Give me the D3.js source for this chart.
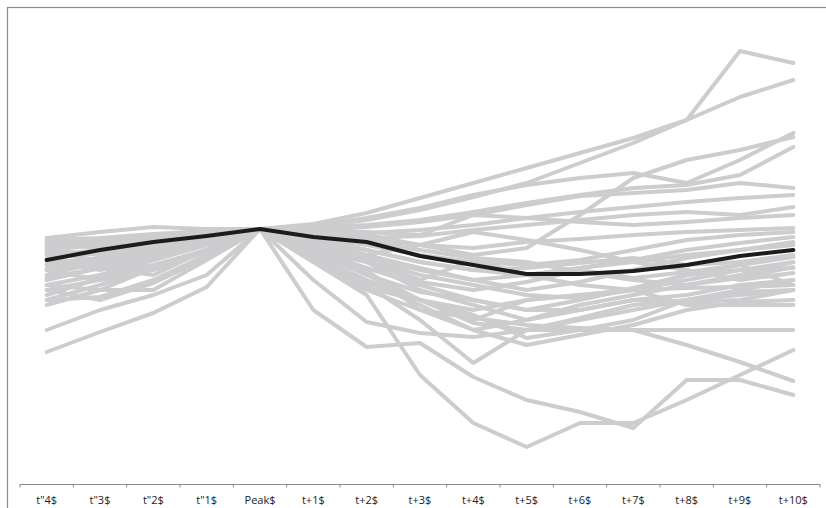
<!DOCTYPE html>
<html>
<head>
<meta charset="utf-8">
<script src="https://cdn.jsdelivr.net/npm/d3@7"></script>
<style>
  body { margin: 0; background: #fff; }
  svg { display: block; }
</style>
</head>
<body>
<div id="chart"></div>
<script>
"use strict";

// period labels (x axis)
const periods = ["t\"4$", "t\"3$", "t\"2$", "t\"1$", "Peak$", "t+1$", "t+2$", "t+3$",
    "t+4$", "t+5$", "t+6$", "t+7$", "t+8$", "t+9$", "t+10$"];

// average path (black line), indexed to 100 at peak
const meanSeries = [87.6, 91.6, 94.8, 97.2, 100, 96.8, 94.8, 89.2, 85.6, 82, 82, 83.2, 85.6, 89.2, 91.6];

// individual paths (grey lines), indexed to 100 at peak
const risingSeries = [
    [95.6, 96.4, 98, 99.2, 100, 100.8, 103.6, 107.6, 112.8, 118.4, 126.4, 134.4, 143.6, 171.2, 166.4],
    [93.6, 95.6, 97.2, 98.8, 100, 102, 106.4, 112.4, 118.4, 124.4, 130.4, 136.4, 143.6, 152.8, 159.6],
    [91.6, 93.6, 96.4, 98.4, 100, 98.8, 97.6, 93.6, 89.6, 92.4, 105.6, 120.4, 127.6, 131.6, 136.8],
    [89.6, 91.6, 94.4, 97.2, 100, 101.2, 104.4, 108.4, 113.6, 117.6, 120.4, 122.4, 118.4, 127.6, 138.4],
    [96.4, 98.8, 100.8, 100, 100, 100.4, 101.6, 103.6, 106.8, 110.4, 113.6, 116.4, 117.6, 121.6, 132.8],
    [94.8, 96, 97.6, 99.2, 100, 99.6, 100.8, 102.8, 105.6, 109.6, 113.2, 114.4, 115.6, 118.4, 116.4],
    [85.6, 88.4, 92.4, 96.4, 100, 98.8, 98.4, 99.6, 101.6, 104.4, 106.8, 108.8, 110.8, 112.4, 113.6],
    [83.6, 86.8, 91.6, 95.6, 100, 97.6, 96.4, 97.2, 99.6, 101.6, 103.6, 105.6, 106.8, 105.6, 108.8],
    [92.4, 94, 96.4, 98.4, 100, 99.2, 98.8, 97.6, 105.6, 104.4, 102.8, 101.6, 102.8, 104.4, 105.6],
    [88, 90.8, 94, 97.2, 100, 98, 95.6, 93.6, 92.4, 94.8, 96, 97.6, 98.8, 99.6, 100.4]
];

const middleSeries = [
    [93.6, 94.4, 96.4, 98.4, 100, 96.4, 93.6, 89.6, 86.8, 85.6, 87.6, 91.6, 95.6, 97.6, 98.8],
    [81.6, 86.8, 91.6, 95.6, 100, 95.6, 91.6, 86.8, 83.6, 81.6, 84.4, 87.6, 91.6, 94.4, 96.8],
    [77.6, 81.6, 87.6, 93.6, 100, 94.4, 89.6, 84.4, 79.6, 75.6, 78.8, 83.6, 88.4, 91.6, 94.8],
    [71.6, 77.6, 84.4, 91.6, 100, 91.6, 84.4, 77.6, 71.6, 67.6, 71.6, 76.4, 81.6, 85.6, 88.8],
    [86.8, 83.6, 88.4, 93.6, 100, 93.6, 87.6, 81.6, 77.6, 73.6, 72.4, 75.6, 79.6, 83.6, 86.8],
    [73.6, 80.4, 85.6, 91.6, 100, 92.4, 86.8, 75.6, 69.6, 63.6, 69.6, 73.6, 77.6, 80.4, 84.8],
    [95.6, 93.6, 95.6, 97.6, 100, 95.6, 89.6, 93.6, 98.8, 95.6, 91.6, 86.8, 83.6, 79.6, 82.4],
    [83.6, 79.6, 87.6, 93.6, 100, 89.6, 79.6, 71.6, 65.6, 56.4, 59.6, 63.6, 71.6, 75.6, 79.6],
    [75.6, 71.6, 78.4, 88.4, 100, 87.6, 76.4, 71.6, 67.6, 71.6, 73.6, 75.6, 76.4, 76.8, 77.6],
    [79.6, 84.4, 81.6, 91.6, 100, 90.8, 81.6, 74.8, 71.6, 67.6, 67.6, 71.6, 70.8, 71.6, 75.6],
    [69.6, 75.6, 75.6, 87.6, 100, 88.4, 78.8, 69.6, 59.6, 53.6, 57.6, 61.6, 67.6, 70.8, 71.6],
    [91.6, 89.6, 92.4, 96.4, 100, 96.4, 91.6, 86.8, 83.6, 84.4, 86.4, 88.4, 85.6, 86.8, 89.6],
    [84, 85.6, 89.6, 93.6, 100, 97.2, 94.8, 91.6, 88.4, 86.8, 82.8, 79.6, 77.6, 81.6, 86.8],
    [87.6, 86.8, 90.8, 94.8, 100, 93.6, 88.4, 83.6, 79.6, 81.6, 84.4, 86.8, 89.6, 91.6, 93.6],
    [77.6, 75.6, 84.4, 91.6, 100, 91.6, 86.8, 79.6, 87.6, 81.6, 77.6, 75.6, 81.6, 83.6, 84.4],
    [71.6, 72.8, 79.6, 89.6, 100, 93.6, 83.6, 67.6, 59.6, 63.6, 67.6, 71.6, 73.6, 77.6, 79.6],
    [90.4, 87.6, 91.6, 94.8, 100, 94.8, 86.8, 78.8, 75.6, 78.8, 83.6, 80.4, 82.8, 85.6, 77.6]
];

const fallingSeries = [
    [94.4, 92.4, 94.8, 97.2, 100, 91.6, 81.6, 71.6, 63.6, 71.6, 73.6, 75.6, 69.6, 69.6, 69.6],
    [75.6, 79.6, 83.6, 90.8, 100, 91.6, 82.8, 71.6, 62.4, 59.6, 59.6, 59.6, 59.6, 59.6, 59.6],
    [83.6, 88.4, 92.4, 95.6, 100, 86.8, 75.6, 67.6, 64.4, 61.6, 60.4, 59.6, 53.6, 46.8, 39.2],
    [59.6, 67.6, 73.6, 81.6, 100, 67.6, 52.8, 54.4, 40.8, 31.6, 26.8, 20.4, 39.6, 39.6, 33.6],
    [50.8, 58.8, 66.4, 76.8, 100, 86.8, 73.6, 41.6, 22.4, 12.8, 22.4, 22.4, 31.6, 41.6, 51.6],
    [80.4, 84.4, 88.4, 94, 100, 79.6, 62.8, 58.4, 56.8, 59.6, 63.6, 67.6, 71.6, 74.8, 75.6],
    [85.6, 87.6, 91.6, 95.6, 100, 89.6, 77.6, 63.6, 46.4, 59.6, 64.4, 69.6, 71.6, 73.6, 75.6]
];

const greySeries = risingSeries.concat(middleSeries, fallingSeries);

const msm = {
    width: 826,
    height: 508,
    left: 20,
    right: 820,
    axisY: 484
};

const svg = d3.select("#chart")
    .append("svg")
    .attr("width", msm.width)
    .attr("height", msm.height);

// outer frame
svg.append("rect")
    .attr("x", 7.5)
    .attr("y", 7.5)
    .attr("width", 840)
    .attr("height", 520)
    .attr("fill", "none")
    .attr("stroke", "#8c8c8c")
    .attr("stroke-width", 1.2);

const x = d3.scaleBand()
    .domain(periods)
    .range([msm.left, msm.right])
    .padding(0);

const y = d3.scaleLinear()
    .domain([0, 190])
    .range([479, 4]);

const line = d3.line()
    .x((d, i) => x(periods[i]) + x.bandwidth() / 2)
    .y(d => y(d));

svg.append("g")
    .selectAll("path")
    .data(greySeries)
    .enter()
    .append("path")
    .attr("d", line)
    .attr("fill", "none")
    .attr("stroke", "#cdcdcf")
    .attr("stroke-width", 4)
    .attr("stroke-linejoin", "round")
    .attr("stroke-linecap", "round");

svg.append("path")
    .datum(meanSeries)
    .attr("d", line)
    .attr("fill", "none")
    .attr("stroke", "#1c1c1c")
    .attr("stroke-width", 4)
    .attr("stroke-linejoin", "round")
    .attr("stroke-linecap", "round");

// x axis: labels centred in bands, ticks on band edges
const xAxis = d3.axisBottom(x).tickSize(0).tickPadding(12);
const axisG = svg.append("g")
    .attr("transform", "translate(0," + msm.axisY + ")")
    .call(xAxis);
axisG.select(".domain").remove();
axisG.selectAll("text")
    .style("font-family", "'Open Sans', 'Noto Sans', sans-serif")
    .style("font-size", "11px")
    .attr("fill", "#222");

axisG.append("line")
    .attr("x1", msm.left)
    .attr("x2", msm.right)
    .attr("y1", 0.5)
    .attr("y2", 0.5)
    .attr("stroke", "#8c8c8c")
    .attr("stroke-width", 1.2);

const edges = periods.map(p => x(p)).concat([x.range()[1]]);
axisG.selectAll(".edge")
    .data(edges)
    .enter()
    .append("line")
    .attr("class", "edge")
    .attr("x1", d => d)
    .attr("x2", d => d)
    .attr("y1", 0)
    .attr("y2", 3.5)
    .attr("stroke", "#8c8c8c")
    .attr("stroke-width", 1);
</script>
</body>
</html>
